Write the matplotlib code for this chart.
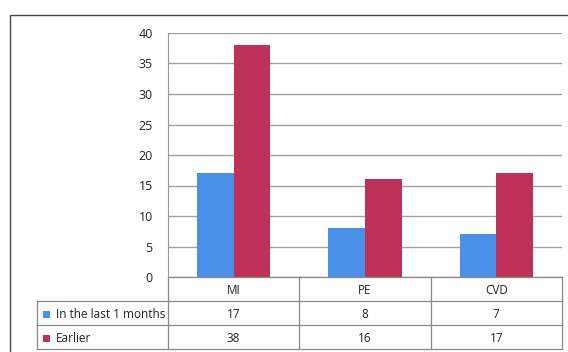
import matplotlib
matplotlib.use("Agg")
import matplotlib.pyplot as plt
import numpy as np
from matplotlib.patches import Rectangle
from matplotlib.lines import Line2D

categories = ["MI", "PE", "CVD"]
series_names = ["In the last 1 months", "Earlier"]
last_month = [17, 8, 7]
earlier = [38, 16, 17]
colors = ["#4a8fe8", "#be3158"]
yticks = [0, 5, 10, 15, 20, 25, 30, 35, 40]

plt.rcParams['font.family'] = ['Open Sans', 'DejaVu Sans']
W, H = 568, 352
fig = plt.figure(figsize=(W / 100, H / 100), dpi=100)

def fx(px):
    return px / W

def fy(py):
    return (H - py) / H

# outer frame
fig.patches.append(Rectangle((fx(10), -0.1), 1.2, fy(15) + 0.1,
                             transform=fig.transFigure, fill=False,
                             edgecolor="#444444", linewidth=1.0))

ax_l, ax_r, ax_t, ax_b = 168, 562, 33, 277
ax = fig.add_axes([fx(ax_l), fy(ax_b), (ax_r - ax_l) / W, (ax_b - ax_t) / H])

x = np.arange(len(categories))
bw = 0.28
ax.bar(x - bw / 2, last_month, bw, color=colors[0], zorder=3)
ax.bar(x + bw / 2, earlier, bw, color=colors[1], zorder=3)

ax.set_xlim(-0.5, len(categories) - 0.5)
ax.set_ylim(0, 40)
ax.set_yticks(yticks)
ax.set_yticklabels([str(v) for v in yticks], fontsize=9, color="#222222")
ax.tick_params(axis='y', length=0, pad=11)
ax.set_xticks([])
ax.grid(axis='y', color="#a0a0a0", linewidth=1.0, zorder=0)
for s in ["top", "right", "bottom"]:
    ax.spines[s].set_visible(False)
ax.spines["left"].set_color("#999999")

# data table (drawn manually)
lc = "#888888"
lw = 0.9
col_w = (ax_r - ax_l) / len(categories)
row_h = 24
label_l = 37
rows = [last_month, earlier]
n_rows = len(rows)
tbl_bottom = ax_b + row_h * (n_rows + 1)

def hline(y, x0, x1):
    fig.add_artist(Line2D([fx(x0), fx(x1)], [fy(y), fy(y)], color=lc, lw=lw,
                          transform=fig.transFigure))

def vline(xp, y0, y1):
    fig.add_artist(Line2D([fx(xp), fx(xp)], [fy(y0), fy(y1)], color=lc, lw=lw,
                          transform=fig.transFigure))

hline(ax_b, ax_l, ax_r)
for i in range(n_rows + 1):
    hline(ax_b + row_h * (i + 1), label_l, ax_r)
vline(label_l, ax_b + row_h, tbl_bottom)
for j in range(len(categories) + 1):
    vline(ax_l + col_w * j, ax_b, tbl_bottom)

tk = dict(fontsize=8.5, color="#222222", transform=fig.transFigure,
          va='center')
for j, cat in enumerate(categories):
    fig.text(fx(ax_l + col_w * (j + 0.5)), fy(ax_b + row_h * 0.5 + 1), cat,
             ha='center', **tk)
for i, (name, vals) in enumerate(zip(series_names, rows)):
    yc = ax_b + row_h * (i + 1.5) + 1
    fig.patches.append(Rectangle((fx(43), fy(yc + 3.5)), 7 / W, 7 / H,
                                 transform=fig.transFigure, facecolor=colors[i],
                                 edgecolor='none'))
    fig.text(fx(56), fy(yc), name, ha='left', **tk)
    for j, v in enumerate(vals):
        fig.text(fx(ax_l + col_w * (j + 0.5)), fy(yc), str(v), ha='center', **tk)

fig.savefig("out.png", dpi=100)
